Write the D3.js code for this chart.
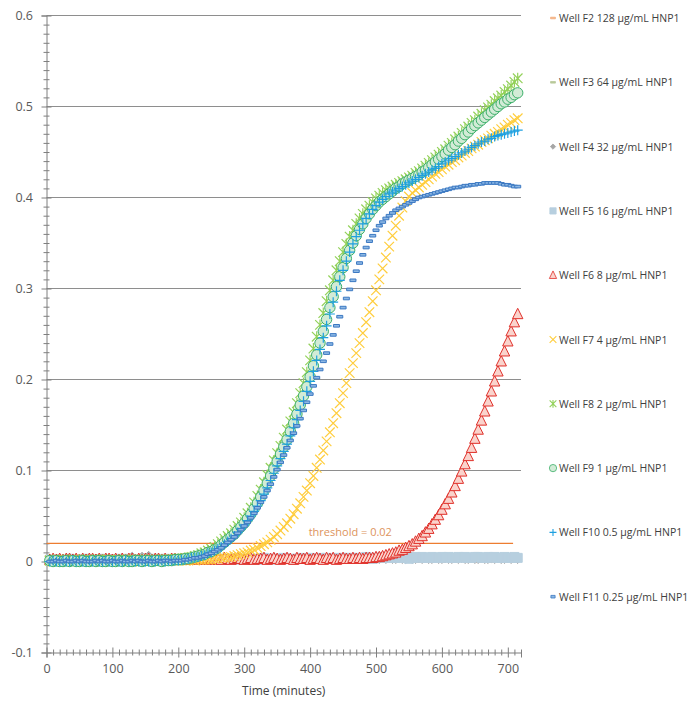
<!DOCTYPE html>
<html>
<head>
<meta charset="utf-8">
<script src="https://cdn.jsdelivr.net/npm/d3@7"></script>
<style>
  body { margin: 0; background: #fff; }
  text { font-family: "Open Sans", "Noto Sans", sans-serif; }
</style>
</head>
<body>
<svg id="chart" width="690" height="702"></svg>
<script>
// Sampling times (minutes)
const times = [
  5,10,15,20,25,30,35,40,45,50,
  55,60,65,70,75,80,85,90,95,100,
  105,110,115,120,125,130,135,140,145,150,
  155,160,165,170,175,180,185,190,195,200,
  205,210,215,220,225,230,235,240,245,250,
  255,260,265,270,275,280,285,290,295,300,
  305,310,315,320,325,330,335,340,345,350,
  355,360,365,370,375,380,385,390,395,400,
  405,410,415,420,425,430,435,440,445,450,
  455,460,465,470,475,480,485,490,495,500,
  505,510,515,520,525,530,535,540,545,550,
  555,560,565,570,575,580,585,590,595,600,
  605,610,615,620,625,630,635,640,645,650,
  655,660,665,670,675,680,685,690,695,700,
  705,710,715
];

// Absorbance readings per well
const wellF2 = [
  0.001,0.001,0.000,0.001,0.001,0.001,0.000,0.001,0.001,0.000,
  0.001,0.001,0.001,0.000,0.001,0.001,0.000,0.001,0.001,0.001,
  0.000,0.001,0.001,0.001,0.000,0.001,0.001,0.001,0.000,0.001,
  0.001,0.000,0.001,0.001,0.001,0.000,0.001,0.001,0.001,0.000,
  0.001,0.001,0.000,0.001,0.001,0.001,0.000,0.001,0.001,0.001,
  0.001,0.000,0.001,0.001,0.000,0.001,0.001,0.001,0.000,0.001,
  0.001,0.001,0.001,0.000,0.001,0.001,0.000,0.001,0.001,0.001,
  0.000,0.001,0.001,0.001,0.000,0.001,0.001,0.000,0.001,0.001,
  0.001,0.000,0.001,0.001,0.001,0.000,0.001,0.001,0.001,0.000,
  0.001,0.001,0.000,0.001,0.001,0.001,0.000,0.001,0.001,0.001,
  0.000,0.001,0.001,0.001,0.000,0.001,0.001,0.001,0.000,0.001,
  0.001,0.001,0.000,0.001,0.001,0.000,0.001,0.001,0.001,0.000,
  0.001,0.001,0.001,0.000,0.001,0.001,0.001,0.000,0.001,0.001,
  0.000,0.001,0.001,0.001,0.000,0.001,0.001,0.001,0.000,0.001,
  0.001,0.000,0.001
];
const wellF3 = [
  0.002,0.001,0.002,0.001,0.001,0.002,0.001,0.002,0.002,0.001,
  0.001,0.002,0.001,0.002,0.001,0.001,0.002,0.001,0.002,0.002,
  0.001,0.002,0.002,0.001,0.002,0.001,0.002,0.002,0.001,0.002,
  0.002,0.001,0.002,0.001,0.002,0.002,0.001,0.002,0.001,0.002,
  0.001,0.002,0.001,0.002,0.002,0.001,0.002,0.001,0.002,0.001,
  0.002,0.002,0.001,0.002,0.001,0.002,0.002,0.001,0.002,0.001,
  0.002,0.001,0.002,0.002,0.001,0.002,0.001,0.002,0.002,0.001,
  0.001,0.002,0.002,0.001,0.002,0.001,0.002,0.002,0.001,0.002,
  0.002,0.001,0.002,0.001,0.002,0.002,0.001,0.002,0.001,0.002,
  0.001,0.002,0.001,0.002,0.002,0.001,0.002,0.001,0.002,0.002,
  0.002,0.001,0.002,0.002,0.001,0.002,0.001,0.002,0.002,0.001,
  0.001,0.002,0.001,0.002,0.002,0.001,0.002,0.002,0.001,0.002,
  0.002,0.002,0.001,0.002,0.001,0.002,0.002,0.001,0.002,0.001,
  0.001,0.002,0.002,0.001,0.002,0.001,0.002,0.002,0.001,0.002,
  0.002,0.001,0.002
];
const wellF4 = [
  0.002,0.002,0.003,0.002,0.003,0.002,0.002,0.003,0.002,0.003,
  0.003,0.002,0.003,0.002,0.004,0.003,0.002,0.003,0.003,0.004,
  0.003,0.004,0.005,0.003,0.004,0.006,0.003,0.004,0.006,0.004,
  0.007,0.004,0.003,0.004,0.003,0.003,0.002,0.003,0.002,0.003,
  0.002,0.003,0.002,0.003,0.002,0.002,0.003,0.002,0.003,0.002,
  0.003,0.002,0.002,0.003,0.002,0.003,0.002,0.002,0.003,0.002,
  0.002,0.003,0.002,0.002,0.003,0.002,0.003,0.002,0.002,0.003,
  0.002,0.003,0.002,0.003,0.002,0.002,0.003,0.002,0.003,0.002,
  0.003,0.002,0.003,0.002,0.002,0.003,0.002,0.003,0.002,0.002,
  0.003,0.002,0.002,0.003,0.002,0.003,0.002,0.002,0.003,0.002,
  0.002,0.003,0.002,0.003,0.002,0.002,0.003,0.002,0.002,0.003,
  0.002,0.002,0.003,0.002,0.003,0.002,0.002,0.003,0.002,0.002,
  0.003,0.002,0.002,0.003,0.002,0.003,0.002,0.002,0.003,0.002,
  0.002,0.003,0.002,0.002,0.003,0.002,0.003,0.002,0.002,0.003,
  0.002,0.003,0.002
];
const wellF5 = [
  0.002,0.001,0.002,0.002,0.001,0.002,0.003,0.002,0.001,0.002,
  0.002,0.003,0.002,0.001,0.002,0.002,0.003,0.002,0.002,0.001,
  0.002,0.003,0.002,0.002,0.003,0.002,0.001,0.002,0.003,0.002,
  0.002,0.002,0.003,0.002,0.002,0.003,0.002,0.002,0.003,0.002,
  0.003,0.002,0.002,0.003,0.002,0.003,0.003,0.002,0.003,0.002,
  0.003,0.002,0.003,0.003,0.002,0.003,0.003,0.002,0.003,0.003,
  0.002,0.003,0.003,0.002,0.003,0.004,0.003,0.002,0.003,0.003,
  0.003,0.004,0.003,0.003,0.002,0.003,0.004,0.003,0.003,0.004,
  0.003,0.003,0.004,0.003,0.004,0.003,0.003,0.004,0.003,0.004,
  0.004,0.003,0.004,0.004,0.003,0.004,0.005,0.004,0.003,0.004,
  0.004,0.005,0.004,0.004,0.005,0.004,0.004,0.005,0.004,0.003,
  0.004,0.005,0.004,0.005,0.004,0.004,0.005,0.004,0.004,0.005,
  0.004,0.005,0.004,0.004,0.005,0.004,0.005,0.004,0.004,0.005,
  0.005,0.004,0.004,0.005,0.004,0.005,0.004,0.004,0.005,0.004,
  0.004,0.005,0.004
];
const wellF6 = [
  0.002,0.003,0.002,0.003,0.002,0.003,0.003,0.002,0.003,0.002,
  0.003,0.002,0.003,0.003,0.002,0.003,0.002,0.003,0.003,0.002,
  0.003,0.002,0.003,0.002,0.003,0.003,0.002,0.003,0.002,0.003,
  0.003,0.002,0.003,0.003,0.002,0.003,0.002,0.003,0.003,0.002,
  0.003,0.002,0.003,0.002,0.003,0.003,0.002,0.003,0.004,0.002,
  0.003,0.003,0.002,0.004,0.003,0.002,0.003,0.004,0.003,0.002,
  0.003,0.004,0.002,0.003,0.003,0.004,0.002,0.003,0.004,0.003,
  0.002,0.003,0.004,0.003,0.002,0.004,0.003,0.003,0.004,0.002,
  0.003,0.004,0.003,0.002,0.004,0.003,0.004,0.002,0.003,0.004,
  0.003,0.003,0.004,0.003,0.004,0.003,0.004,0.004,0.004,0.005,
  0.005,0.006,0.007,0.008,0.009,0.010,0.012,0.013,0.015,0.017,
  0.019,0.022,0.025,0.028,0.032,0.036,0.041,0.046,0.051,0.057,
  0.063,0.069,0.076,0.083,0.091,0.099,0.107,0.116,0.125,0.135,
  0.145,0.155,0.165,0.176,0.187,0.198,0.209,0.220,0.231,0.242,
  0.253,0.263,0.272
];
const wellF7 = [
  0.001,0.000,0.001,0.001,0.000,0.001,0.001,0.000,0.001,0.001,
  0.000,0.001,0.001,0.000,0.001,0.001,0.000,0.001,0.001,0.001,
  0.001,0.000,0.001,0.001,0.001,0.000,0.001,0.001,0.001,0.001,
  0.001,0.001,0.001,0.000,0.001,0.001,0.001,0.001,0.001,0.001,
  0.001,0.001,0.001,0.002,0.001,0.002,0.002,0.002,0.002,0.002,
  0.003,0.003,0.004,0.004,0.005,0.005,0.006,0.007,0.008,0.009,
  0.010,0.012,0.013,0.015,0.017,0.019,0.021,0.024,0.027,0.030,
  0.034,0.038,0.042,0.047,0.052,0.058,0.064,0.071,0.078,0.086,
  0.094,0.103,0.112,0.122,0.132,0.142,0.152,0.163,0.174,0.185,
  0.196,0.207,0.218,0.229,0.240,0.251,0.263,0.274,0.286,0.298,
  0.310,0.322,0.334,0.346,0.358,0.369,0.380,0.389,0.396,0.401,
  0.405,0.408,0.411,0.414,0.417,0.420,0.423,0.426,0.428,0.431,
  0.434,0.436,0.439,0.441,0.444,0.446,0.449,0.451,0.454,0.456,
  0.458,0.461,0.463,0.465,0.468,0.470,0.472,0.475,0.477,0.480,
  0.482,0.485,0.487
];
const wellF8 = [
  0.001,0.002,0.001,0.001,0.002,0.001,0.002,0.001,0.001,0.002,
  0.002,0.001,0.001,0.002,0.001,0.002,0.002,0.001,0.002,0.001,
  0.001,0.002,0.001,0.002,0.002,0.001,0.002,0.001,0.002,0.002,
  0.001,0.002,0.001,0.002,0.002,0.002,0.002,0.002,0.003,0.003,
  0.003,0.004,0.004,0.005,0.006,0.007,0.009,0.010,0.012,0.014,
  0.016,0.019,0.022,0.025,0.028,0.031,0.035,0.039,0.043,0.048,
  0.053,0.059,0.065,0.072,0.079,0.087,0.095,0.103,0.111,0.119,
  0.127,0.136,0.145,0.154,0.164,0.174,0.185,0.196,0.208,0.221,
  0.234,0.247,0.260,0.273,0.286,0.298,0.309,0.320,0.330,0.340,
  0.349,0.357,0.364,0.371,0.377,0.382,0.387,0.391,0.395,0.399,
  0.402,0.405,0.408,0.410,0.412,0.414,0.416,0.418,0.420,0.422,
  0.424,0.427,0.429,0.432,0.435,0.438,0.441,0.444,0.447,0.450,
  0.453,0.457,0.460,0.464,0.467,0.471,0.475,0.478,0.482,0.485,
  0.489,0.492,0.496,0.499,0.502,0.506,0.509,0.512,0.516,0.519,
  0.523,0.527,0.531
];
const wellF9 = [
  0.001,0.000,0.001,0.000,0.000,0.001,0.000,0.001,0.000,0.000,
  0.001,0.000,0.000,0.001,0.000,0.001,0.000,0.000,0.001,0.000,
  0.000,0.001,0.000,0.001,0.000,0.000,0.001,0.001,0.000,0.001,
  0.001,0.000,0.001,0.001,0.000,0.001,0.001,0.001,0.002,0.002,
  0.002,0.003,0.003,0.004,0.005,0.006,0.007,0.008,0.010,0.011,
  0.013,0.015,0.018,0.021,0.024,0.027,0.030,0.034,0.038,0.042,
  0.047,0.052,0.058,0.064,0.071,0.078,0.086,0.094,0.102,0.110,
  0.118,0.126,0.134,0.143,0.152,0.162,0.172,0.182,0.192,0.203,
  0.215,0.227,0.240,0.253,0.266,0.279,0.291,0.302,0.313,0.323,
  0.333,0.342,0.350,0.358,0.365,0.371,0.377,0.382,0.387,0.391,
  0.395,0.398,0.401,0.404,0.407,0.410,0.412,0.415,0.417,0.419,
  0.421,0.423,0.425,0.428,0.430,0.433,0.436,0.439,0.442,0.445,
  0.448,0.452,0.455,0.458,0.462,0.465,0.469,0.472,0.476,0.479,
  0.482,0.485,0.488,0.491,0.494,0.497,0.500,0.503,0.505,0.508,
  0.510,0.513,0.515
];
const wellF10 = [
  0.000,0.001,0.000,0.000,0.001,0.000,0.000,0.001,0.000,0.001,
  0.000,0.000,0.001,0.000,0.001,0.000,0.000,0.001,0.000,0.000,
  0.001,0.000,0.000,0.001,0.000,0.001,0.000,0.000,0.001,0.000,
  0.000,0.001,0.000,0.001,0.001,0.000,0.001,0.001,0.001,0.001,
  0.002,0.002,0.003,0.004,0.004,0.005,0.006,0.007,0.009,0.010,
  0.012,0.014,0.016,0.019,0.022,0.025,0.028,0.032,0.036,0.040,
  0.045,0.050,0.055,0.061,0.067,0.074,0.081,0.089,0.097,0.105,
  0.113,0.121,0.129,0.138,0.147,0.156,0.166,0.176,0.187,0.198,
  0.209,0.221,0.233,0.246,0.259,0.272,0.285,0.297,0.309,0.320,
  0.330,0.340,0.349,0.357,0.364,0.371,0.377,0.382,0.387,0.391,
  0.395,0.398,0.401,0.404,0.406,0.408,0.410,0.412,0.414,0.416,
  0.418,0.420,0.422,0.424,0.426,0.428,0.430,0.432,0.434,0.437,
  0.439,0.441,0.443,0.445,0.447,0.449,0.451,0.453,0.455,0.457,
  0.459,0.461,0.462,0.464,0.465,0.467,0.468,0.469,0.470,0.471,
  0.472,0.473,0.474
];
const wellF11 = [
  0.000,0.000,0.001,0.000,0.000,0.001,0.000,0.000,0.001,0.000,
  0.001,0.000,0.000,0.000,0.001,0.000,0.001,0.000,0.000,0.001,
  0.000,0.000,0.001,0.000,0.000,0.001,0.000,0.001,0.000,0.000,
  0.001,0.000,0.000,0.001,0.000,0.001,0.001,0.000,0.001,0.001,
  0.001,0.002,0.002,0.003,0.004,0.004,0.005,0.006,0.008,0.009,
  0.011,0.013,0.015,0.018,0.021,0.024,0.027,0.031,0.035,0.039,
  0.043,0.048,0.053,0.059,0.065,0.071,0.078,0.085,0.093,0.101,
  0.109,0.117,0.125,0.133,0.141,0.149,0.157,0.166,0.175,0.184,
  0.193,0.202,0.211,0.220,0.229,0.239,0.249,0.259,0.269,0.279,
  0.289,0.299,0.309,0.319,0.328,0.337,0.345,0.352,0.358,0.364,
  0.369,0.373,0.377,0.380,0.383,0.386,0.388,0.390,0.392,0.394,
  0.396,0.398,0.400,0.401,0.402,0.403,0.404,0.405,0.406,0.407,
  0.408,0.409,0.410,0.411,0.411,0.412,0.413,0.413,0.414,0.414,
  0.415,0.415,0.416,0.416,0.416,0.416,0.416,0.415,0.414,0.414,
  0.413,0.412,0.412
];

const seriesLabels = [
  "Well F2 128 µg/mL HNP1",
  "Well F3 64 µg/mL HNP1",
  "Well F4 32 µg/mL HNP1",
  "Well F5 16 µg/mL HNP1",
  "Well F6 8 µg/mL HNP1",
  "Well F7 4 µg/mL HNP1",
  "Well F8 2 µg/mL HNP1",
  "Well F9 1 µg/mL HNP1",
  "Well F10 0.5 µg/mL HNP1",
  "Well F11 0.25 µg/mL HNP1"
];
const seriesValues = [wellF2, wellF3, wellF4, wellF5, wellF6, wellF7, wellF8, wellF9, wellF10, wellF11];

const yTicks = [-0.1, 0, 0.1, 0.2, 0.3, 0.4, 0.5, 0.6];
const xTicks = [0, 100, 200, 300, 400, 500, 600, 700];
const threshold = 0.02;
const thresholdLabel = "threshold = 0.02";
const xTitle = "Time (minutes)";

// Marker styles for each well, in drawing order
const markerStyles = [
  { shape: "dash",     size: 3.5, fill: "#F4B183", stroke: "#F4B183" },
  { shape: "dash",     size: 3.5, fill: "#B9C99A", stroke: "#B9C99A" },
  { shape: "diamond",  size: 3.8, fill: "#A6A6A6", stroke: "#A6A6A6" },
  { shape: "square",   size: 4.5, fill: "#B7CFDF", stroke: "#B7CFDF" },
  { shape: "triangle", size: 5.2, fill: "#FAD3CC", stroke: "#E0302A" },
  { shape: "x",        size: 4.8, fill: "none",    stroke: "#FFCD3C" },
  { shape: "star",     size: 4.8, fill: "none",    stroke: "#93D15A" },
  { shape: "circle",   size: 5.2, fill: "#D2EBD6", stroke: "#3CB06A" },
  { shape: "plus",     size: 5.0, fill: "none",    stroke: "#1EA0E0" },
  { shape: "bar",      size: 3.0, fill: "#8DB8E4", stroke: "#3B78C2" }
];

function markerPath(shape, s) {
  switch (shape) {
    case "circle":
      return `M${s},0A${s},${s} 0 1,1 ${-s},0A${s},${s} 0 1,1 ${s},0Z`;
    case "triangle": {
      const h = s * 0.9;
      return `M0,${-h - 1}L${s},${h}L${-s},${h}Z`;
    }
    case "square":
      return `M${-s},${-s}H${s}V${s}H${-s}Z`;
    case "diamond":
      return `M0,${-s}L${s},0L0,${s}L${-s},0Z`;
    case "x":
      return `M${-s},${-s}L${s},${s}M${-s},${s}L${s},${-s}`;
    case "star":
      return `M${-s},${-s}L${s},${s}M${-s},${s}L${s},${-s}M0,${-s * 1.15}L0,${s * 1.15}`;
    case "plus":
      return `M${-s},0L${s},0M0,${-s}L0,${s}`;
    case "dash":
      return `M${-s},-0.8H${s}V0.8H${-s}Z`;
    case "bar":
      return `M${-s},-1.3H${s}V1.3H${-s}Z`;
  }
}

const svg = d3.select("#chart");
svg.append("rect").attr("width", 690).attr("height", 702).attr("fill", "#fff");

const x = d3.scaleLinear().domain([0, 720]).range([46.5, 521]);
const y = d3.scaleLinear().domain([-0.1, 0.6]).range([652.5, 15.5]);

// Horizontal gridlines
svg.append("g")
  .selectAll("line")
  .data(yTicks.filter(v => v > -0.1))
  .join("line")
  .attr("x1", x(0)).attr("x2", x(720))
  .attr("y1", d => y(d)).attr("y2", d => y(d))
  .attr("stroke", "#8E8E8E").attr("stroke-width", 1);

// Y axis: major ticks with labels, minor ticks every 0.01
const yMinor = d3.range(-100, 601, 10).map(v => v / 1000).filter(v => Math.abs(Math.round(v * 10) - v * 10) > 1e-6);
const yAxisMinor = svg.append("g").attr("transform", `translate(${x(0)},0)`)
  .call(d3.axisLeft(y).tickValues(yMinor).tickSize(3).tickFormat(""));
yAxisMinor.select(".domain").remove();
yAxisMinor.selectAll("line").attr("x1", -3).attr("x2", 3).attr("stroke", "#7F7F7F");

const yAxis = svg.append("g").attr("transform", `translate(${x(0)},0)`)
  .call(d3.axisLeft(y).tickValues(yTicks).tickSize(5).tickPadding(10)
    .tickFormat(d => d === 0 ? "0" : String(d)));
yAxis.select(".domain").attr("stroke", "#7F7F7F");
yAxis.selectAll(".tick line").attr("x1", -5).attr("x2", 5).attr("stroke", "#7F7F7F");
yAxis.selectAll(".tick text")
  .attr("x", -13.5)
  .attr("fill", "#595959").attr("font-size", 12.5)
  .style("font-family", "'Open Sans', sans-serif");

// X axis: major ticks with labels, minor ticks every 10 minutes
const xMinor = d3.range(10, 721, 10).filter(v => v % 100 !== 0);
const xAxisMinor = svg.append("g").attr("transform", `translate(0,${y(-0.1)})`)
  .call(d3.axisBottom(x).tickValues(xMinor).tickSize(3).tickFormat(""));
xAxisMinor.select(".domain").remove();
xAxisMinor.selectAll("line").attr("y1", -3).attr("y2", 3).attr("stroke", "#7F7F7F");

const xAxis = svg.append("g").attr("transform", `translate(0,${y(-0.1)})`)
  .call(d3.axisBottom(x).tickValues(xTicks).tickSize(5).tickPadding(10).tickFormat(d => String(d)));
xAxis.select(".domain").attr("stroke", "#7F7F7F");
xAxis.selectAll(".tick line").attr("y1", -5).attr("y2", 5).attr("stroke", "#7F7F7F");
xAxis.selectAll(".tick text")
  .attr("y", 12)
  .attr("fill", "#595959").attr("font-size", 12.5)
  .style("font-family", "'Open Sans', sans-serif");

svg.append("text")
  .attr("x", (x(0) + x(720)) / 2).attr("y", 695)
  .attr("text-anchor", "middle")
  .attr("fill", "#404040").attr("font-size", 12)
  .text(xTitle);

// Threshold line
svg.append("line")
  .attr("x1", x(0)).attr("x2", x(708))
  .attr("y1", y(threshold)).attr("y2", y(threshold))
  .attr("stroke", "#ED7D31").attr("stroke-width", 1.2);

// Data markers, one group per well
const plot = svg.append("g");
seriesValues.forEach((vals, k) => {
  const st = markerStyles[k];
  plot.append("g")
    .selectAll("path")
    .data(vals)
    .join("path")
    .attr("transform", (d, i) => `translate(${x(times[i])},${y(d)})`)
    .attr("d", markerPath(st.shape, st.size))
    .attr("fill", st.fill)
    .attr("stroke", st.stroke)
    .attr("stroke-width", st.fill === "none" ? 1.2 : 1);
});

// Threshold label
svg.append("text")
  .attr("x", x(461)).attr("y", y(threshold) - 7)
  .attr("text-anchor", "middle")
  .attr("fill", "#DD935C").attr("font-size", 11)
  .text(thresholdLabel);

// Legend
const legend = svg.append("g");
seriesLabels.forEach((label, k) => {
  const st = markerStyles[k];
  const ly = 18 + k * 64.3;
  legend.append("path")
    .attr("transform", `translate(553,${ly})`)
    .attr("d", markerPath(st.shape, st.size * 0.7))
    .attr("fill", st.fill)
    .attr("stroke", st.stroke)
    .attr("stroke-width", st.fill === "none" ? 1.1 : 0.8);
  legend.append("text")
    .attr("x", 559).attr("y", ly + 4)
    .attr("fill", "#404040").attr("font-size", 10.5)
    .text(label);
});
</script>
</body>
</html>
